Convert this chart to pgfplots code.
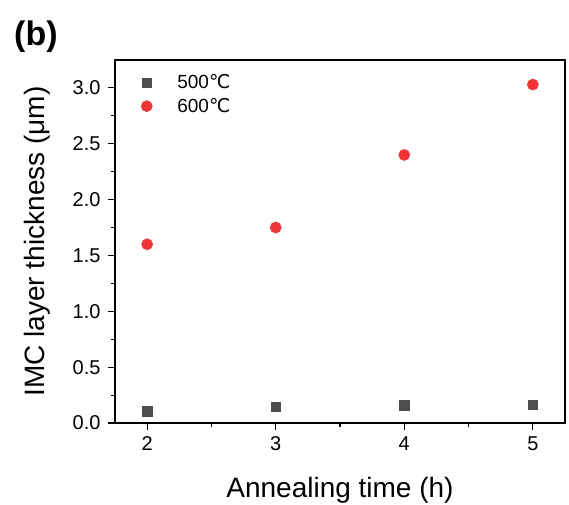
\documentclass[border=0pt]{standalone}
\usepackage{fontspec}
\setmainfont{Liberation Sans}
\newfontfamily\dv{DejaVu Sans}
\usepackage{pgfplots}
\pgfplotsset{compat=1.18}
\definecolor{sqgray}{RGB}{77,77,77}
\definecolor{ptred}{RGB}{238,52,52}
\begin{document}
\begin{tikzpicture}
\useasboundingbox (-115pt,-81pt) rectangle (454pt,423pt);
\begin{axis}[
  at={(0,0)}, anchor=south west,
  scale only axis, width=450pt, height=363pt,
  xmin=1.75, xmax=5.25, ymin=0, ymax=3.25,
  xtick={2,3,4,5}, ytick={0,0.5,1,1.5,2,2.5,3},
  minor xtick={2.5,3.5,4.5},
  minor ytick={0.25,0.75,1.25,1.75,2.25,2.75},
  xtick pos=bottom, ytick pos=left,
  tick align=outside,
  major tick length=7pt, minor tick length=4pt,
  every tick/.style={line width=1.1pt, black},
  axis line style={line width=1.3pt},
  /pgf/number format/assume math mode=true,
  xticklabel style={font=\fontsize{20}{23}\selectfont, yshift=-3pt},
  yticklabel style={font=\fontsize{20}{23}\selectfont, xshift=-4pt, /pgf/number format/.cd, fixed, fixed zerofill, precision=1},
  xlabel={Annealing time (h)},
  ylabel={IMC layer thickness (μm)},
  label style={font=\fontsize{28}{32}\selectfont},
  xlabel style={at={(axis description cs:0.5,-0.204)}, anchor=base},
  ylabel style={at={(axis description cs:-0.172,0.5)}, anchor=center, rotate=0},
  legend style={at={(axis description cs:0.051,0.971)}, anchor=north west, draw=none, fill=none,
    font=\fontsize{19}{22}\selectfont, row sep=4pt},
  legend cell align=left,
]
\addplot[only marks, mark=square*, mark size=4.8pt, color=sqgray] coordinates {
  (2,0.105) (3,0.146) (4,0.159) (5,0.164)};
\addlegendentry{\hspace{23pt}500{\dv ℃}}
\addplot[only marks, mark=*, mark size=5.6pt, color=ptred] coordinates {
  (2,1.60) (3,1.75) (4,2.40) (5,3.03)};
\addlegendentry{\hspace{23pt}600{\dv ℃}}
\end{axis}
\node[anchor=north west, inner sep=0pt, font=\fontsize{34}{38}\selectfont\bfseries] at (-101pt,402pt) {(b)};
\end{tikzpicture}
\end{document}
